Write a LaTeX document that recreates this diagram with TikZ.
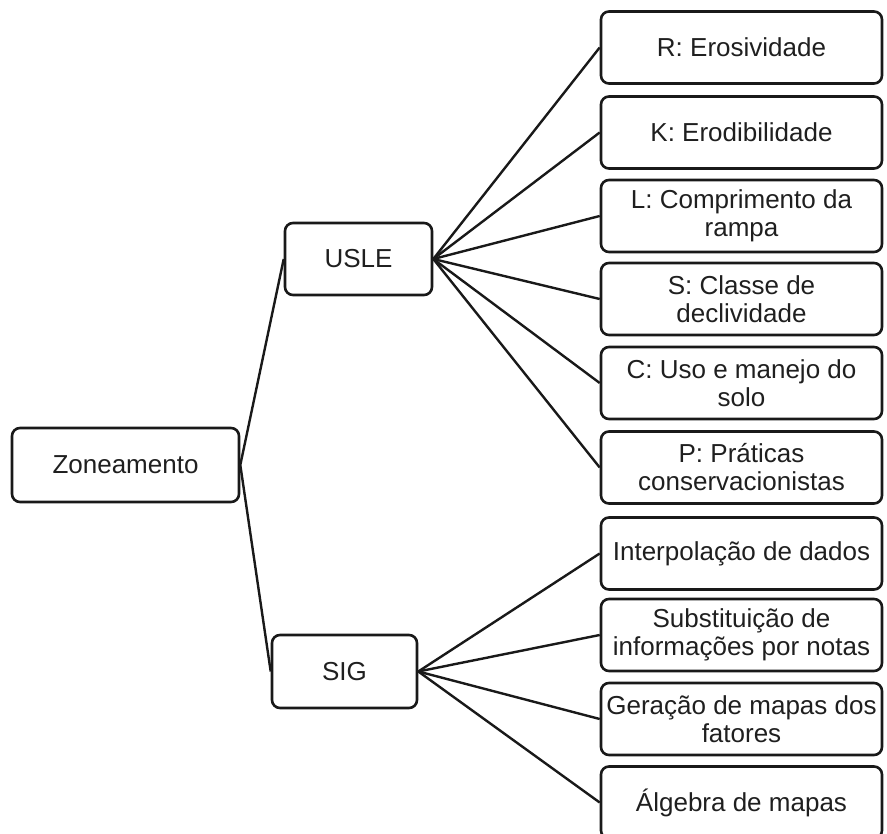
\documentclass[tikz,border=0pt]{standalone}
\usepackage{fontspec}
\setmainfont{Liberation Sans}
\begin{document}
\begin{tikzpicture}[x=1pt,y=-1pt,
  box/.style={draw=black!90, line width=2.6pt, rounded corners=8pt, align=center,
    inner sep=2pt, font=\fontsize{26}{28}\selectfont, text=black!88},
  leaf/.style={box, minimum width=281pt, minimum height=72pt},
  link/.style={line width=2.4pt, draw=black!90}]
\useasboundingbox (0,0) rectangle (887,834);
\node[box, minimum width=227pt, minimum height=74pt] (zon) at (125.5,465) {Zoneamento};
\node[box, minimum width=147pt, minimum height=72pt] (usle) at (358.5,259) {USLE};
\node[box, minimum width=145pt, minimum height=73pt] (sig) at (344.5,671.5) {SIG};
\node[leaf] (r) at (741.5,47.5) {R: Erosividade};
\node[leaf] (k) at (741.5,132.5) {K: Erodibilidade};
\node[leaf] (l) at (741.5,216) {L: Comprimento da\\rampa};
\node[leaf] (s) at (741.5,299) {S: Classe de\\declividade};
\node[leaf] (c) at (741.5,383) {C: Uso e manejo do\\solo};
\node[leaf] (p) at (741.5,467.5) {P: Práticas\\conservacionistas};
\node[leaf] (i) at (741.5,553.5) {Interpolação de dados};
\node[leaf] (sb) at (741.5,635) {Substituição de\\informações por notas};
\node[leaf] (g) at (741.5,719) {Geração de mapas dos\\fatores};
\node[leaf] (a) at (741.5,802.5) {Álgebra de mapas};
\draw[link] (zon.east) -- (usle.west);
\draw[link] (zon.east) -- (sig.west);
\foreach \t in {r,k,l,s,c,p} \draw[link] (usle.east) -- (\t.west);
\foreach \t in {i,sb,g,a} \draw[link] (sig.east) -- (\t.west);
\end{tikzpicture}
\end{document}
